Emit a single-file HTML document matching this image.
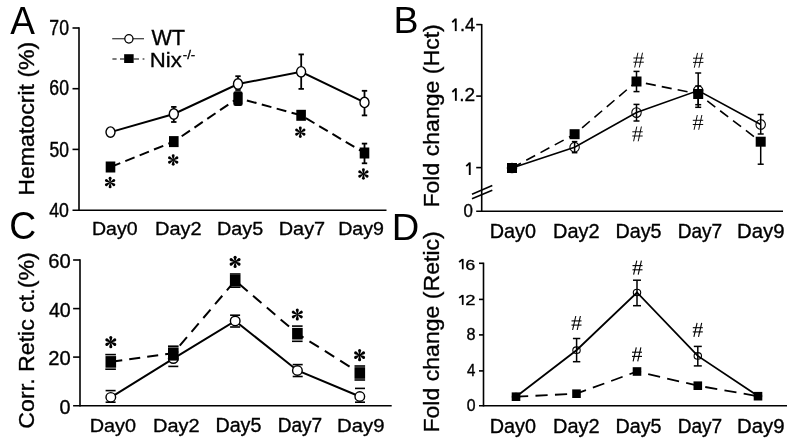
<!DOCTYPE html>
<html><head><meta charset="utf-8"><style>html,body{margin:0;padding:0;background:#fff;}svg{display:block;filter:grayscale(1);}</style></head>
<body><svg width="800" height="447" viewBox="0 0 800 447">
<rect width="800" height="447" fill="#fff"/>
<text transform="translate(10.30,34.40) scale(0.9687,1)" font-family="Liberation Sans" font-size="38.19" fill="#000" stroke="#000" stroke-width="0.000" >A</text>
<line x1="79.00" y1="27.30" x2="79.00" y2="210.90" stroke="#000" stroke-width="1.6" stroke-linecap="butt"/>
<line x1="72.50" y1="28.00" x2="79.00" y2="28.00" stroke="#000" stroke-width="1.6" stroke-linecap="butt"/>
<line x1="72.50" y1="88.70" x2="79.00" y2="88.70" stroke="#000" stroke-width="1.6" stroke-linecap="butt"/>
<line x1="72.50" y1="149.40" x2="79.00" y2="149.40" stroke="#000" stroke-width="1.6" stroke-linecap="butt"/>
<line x1="72.50" y1="210.20" x2="386.50" y2="210.20" stroke="#000" stroke-width="1.6" stroke-linecap="butt"/>
<text transform="translate(49.32,34.90) scale(0.8159,1)" font-family="Liberation Sans" font-size="21.64" fill="#000" stroke="#000" stroke-width="0.429" >70</text>
<text transform="translate(49.32,95.40) scale(0.8324,1)" font-family="Liberation Sans" font-size="21.21" fill="#000" stroke="#000" stroke-width="0.420" >60</text>
<text transform="translate(49.50,156.80) scale(0.8134,1)" font-family="Liberation Sans" font-size="21.50" fill="#000" stroke="#000" stroke-width="0.430" >50</text>
<text transform="translate(49.25,217.10) scale(0.8528,1)" font-family="Liberation Sans" font-size="20.79" fill="#000" stroke="#000" stroke-width="0.410" >40</text>
<text transform="translate(92.04,235.20) scale(1.0304,1)" font-family="Liberation Sans" font-size="18.93" fill="#000" stroke="#000" stroke-width="0.340" >Day0</text>
<text transform="translate(155.10,235.20) scale(1.0542,1)" font-family="Liberation Sans" font-size="18.93" fill="#000" stroke="#000" stroke-width="0.332" >Day2</text>
<text transform="translate(217.02,235.20) scale(1.0298,1)" font-family="Liberation Sans" font-size="19.20" fill="#000" stroke="#000" stroke-width="0.340" >Day5</text>
<text transform="translate(278.71,235.20) scale(1.0368,1)" font-family="Liberation Sans" font-size="19.20" fill="#000" stroke="#000" stroke-width="0.338" >Day7</text>
<text transform="translate(338.23,235.20) scale(1.0351,1)" font-family="Liberation Sans" font-size="18.93" fill="#000" stroke="#000" stroke-width="0.338" >Day9</text>
<text transform="translate(34.00,195.75) rotate(-90) scale(1.0278,1)" font-family="Liberation Sans" font-size="22.50" stroke="#000" stroke-width="0.341">Hematocrit (%)</text>
<line x1="112.20" y1="38.70" x2="144.00" y2="38.70" stroke="#444" stroke-width="1.3" stroke-linecap="butt"/>
<ellipse cx="128.90" cy="38.85" rx="4.10" ry="4.20" fill="#fff" stroke="#000" stroke-width="1.3"/>
<text transform="translate(151.44,45.30) scale(0.9934,1)" font-family="Liberation Sans" font-size="21.81" fill="#000" stroke="#000" stroke-width="0.352" >WT</text>
<line x1="112.40" y1="59.00" x2="116.60" y2="59.00" stroke="#444" stroke-width="1.4" stroke-linecap="butt"/>
<line x1="120.00" y1="59.00" x2="124.50" y2="59.00" stroke="#444" stroke-width="1.4" stroke-linecap="butt"/>
<line x1="133.50" y1="59.00" x2="139.00" y2="59.00" stroke="#444" stroke-width="1.4" stroke-linecap="butt"/>
<line x1="142.60" y1="59.00" x2="144.40" y2="59.00" stroke="#444" stroke-width="1.4" stroke-linecap="butt"/>
<rect x="124.15" y="54.20" width="9.50" height="8.80" fill="#000"/>
<text transform="translate(149.78,66.60) scale(1.1127,1)" font-family="Liberation Sans" font-size="19.93" fill="#000" stroke="#000" stroke-width="0.315" >Nix</text>
<text transform="translate(182.70,59.20) scale(1.1111,1)" font-family="Liberation Sans" font-size="12.00" fill="#000" stroke="#000" stroke-width="0.315" >-/-</text>
<polyline points="110.50,167.00 173.80,141.60 238.00,98.00 301.10,115.30 364.50,153.00" fill="none" stroke="#000" stroke-width="2.0" stroke-linejoin="miter" stroke-dasharray="10 5.45" stroke-dashoffset="-0.5"/>
<polyline points="110.50,132.10 173.80,114.00 238.00,84.00 301.10,71.80 364.50,102.40" fill="none" stroke="#000" stroke-width="2.0" stroke-linejoin="miter"/>
<line x1="173.80" y1="106.90" x2="173.80" y2="122.00" stroke="#000" stroke-width="1.8" stroke-linecap="butt"/>
<line x1="171.10" y1="106.90" x2="176.50" y2="106.90" stroke="#000" stroke-width="1.8" stroke-linecap="butt"/>
<line x1="171.10" y1="122.00" x2="176.50" y2="122.00" stroke="#000" stroke-width="1.8" stroke-linecap="butt"/>
<line x1="238.00" y1="76.20" x2="238.00" y2="90.00" stroke="#000" stroke-width="1.8" stroke-linecap="butt"/>
<line x1="235.30" y1="76.20" x2="240.70" y2="76.20" stroke="#000" stroke-width="1.8" stroke-linecap="butt"/>
<line x1="235.30" y1="90.00" x2="240.70" y2="90.00" stroke="#000" stroke-width="1.8" stroke-linecap="butt"/>
<line x1="301.20" y1="54.40" x2="301.20" y2="88.90" stroke="#000" stroke-width="1.8" stroke-linecap="butt"/>
<line x1="298.50" y1="54.40" x2="303.90" y2="54.40" stroke="#000" stroke-width="1.8" stroke-linecap="butt"/>
<line x1="298.50" y1="88.90" x2="303.90" y2="88.90" stroke="#000" stroke-width="1.8" stroke-linecap="butt"/>
<line x1="364.50" y1="90.80" x2="364.50" y2="115.40" stroke="#000" stroke-width="1.8" stroke-linecap="butt"/>
<line x1="361.80" y1="90.80" x2="367.20" y2="90.80" stroke="#000" stroke-width="1.8" stroke-linecap="butt"/>
<line x1="361.80" y1="115.40" x2="367.20" y2="115.40" stroke="#000" stroke-width="1.8" stroke-linecap="butt"/>
<ellipse cx="110.50" cy="132.10" rx="4.50" ry="5.20" fill="#fff" stroke="#000" stroke-width="1.4"/>
<ellipse cx="173.80" cy="114.00" rx="4.50" ry="5.20" fill="#fff" stroke="#000" stroke-width="1.4"/>
<ellipse cx="238.00" cy="84.00" rx="4.50" ry="5.20" fill="#fff" stroke="#000" stroke-width="1.4"/>
<ellipse cx="301.10" cy="71.80" rx="4.50" ry="5.20" fill="#fff" stroke="#000" stroke-width="1.4"/>
<ellipse cx="364.50" cy="102.40" rx="4.50" ry="5.20" fill="#fff" stroke="#000" stroke-width="1.4"/>
<line x1="364.50" y1="143.60" x2="364.50" y2="163.30" stroke="#000" stroke-width="1.8" stroke-linecap="butt"/>
<line x1="361.80" y1="143.60" x2="367.20" y2="143.60" stroke="#000" stroke-width="1.8" stroke-linecap="butt"/>
<line x1="361.80" y1="163.30" x2="367.20" y2="163.30" stroke="#000" stroke-width="1.8" stroke-linecap="butt"/>
<rect x="105.70" y="161.50" width="9.60" height="11.00" fill="#000"/>
<rect x="169.00" y="136.10" width="9.60" height="11.00" fill="#000"/>
<rect x="233.30" y="91.3" width="9.4" height="14.6" rx="2.2" fill="#000"/>
<rect x="296.30" y="109.80" width="9.60" height="11.00" fill="#000"/>
<rect x="359.70" y="147.50" width="9.60" height="11.00" fill="#000"/>
<path d="M -0.3,0 L -1.45,-4.30 A 1.45 1.45 0 1 1 1.45,-4.30 L 0.3,0 Z" transform="translate(110.10,182.60) scale(1.0) rotate(0)" fill="#000"/>
<path d="M -0.3,0 L -1.45,-4.30 A 1.45 1.45 0 1 1 1.45,-4.30 L 0.3,0 Z" transform="translate(110.10,182.60) scale(1.0) rotate(60)" fill="#000"/>
<path d="M -0.3,0 L -1.45,-4.30 A 1.45 1.45 0 1 1 1.45,-4.30 L 0.3,0 Z" transform="translate(110.10,182.60) scale(1.0) rotate(120)" fill="#000"/>
<path d="M -0.3,0 L -1.45,-4.30 A 1.45 1.45 0 1 1 1.45,-4.30 L 0.3,0 Z" transform="translate(110.10,182.60) scale(1.0) rotate(180)" fill="#000"/>
<path d="M -0.3,0 L -1.45,-4.30 A 1.45 1.45 0 1 1 1.45,-4.30 L 0.3,0 Z" transform="translate(110.10,182.60) scale(1.0) rotate(240)" fill="#000"/>
<path d="M -0.3,0 L -1.45,-4.30 A 1.45 1.45 0 1 1 1.45,-4.30 L 0.3,0 Z" transform="translate(110.10,182.60) scale(1.0) rotate(300)" fill="#000"/>
<path d="M -0.3,0 L -1.45,-4.30 A 1.45 1.45 0 1 1 1.45,-4.30 L 0.3,0 Z" transform="translate(173.20,160.00) scale(1.0) rotate(0)" fill="#000"/>
<path d="M -0.3,0 L -1.45,-4.30 A 1.45 1.45 0 1 1 1.45,-4.30 L 0.3,0 Z" transform="translate(173.20,160.00) scale(1.0) rotate(60)" fill="#000"/>
<path d="M -0.3,0 L -1.45,-4.30 A 1.45 1.45 0 1 1 1.45,-4.30 L 0.3,0 Z" transform="translate(173.20,160.00) scale(1.0) rotate(120)" fill="#000"/>
<path d="M -0.3,0 L -1.45,-4.30 A 1.45 1.45 0 1 1 1.45,-4.30 L 0.3,0 Z" transform="translate(173.20,160.00) scale(1.0) rotate(180)" fill="#000"/>
<path d="M -0.3,0 L -1.45,-4.30 A 1.45 1.45 0 1 1 1.45,-4.30 L 0.3,0 Z" transform="translate(173.20,160.00) scale(1.0) rotate(240)" fill="#000"/>
<path d="M -0.3,0 L -1.45,-4.30 A 1.45 1.45 0 1 1 1.45,-4.30 L 0.3,0 Z" transform="translate(173.20,160.00) scale(1.0) rotate(300)" fill="#000"/>
<path d="M -0.3,0 L -1.45,-4.30 A 1.45 1.45 0 1 1 1.45,-4.30 L 0.3,0 Z" transform="translate(300.30,132.20) scale(1.0) rotate(0)" fill="#000"/>
<path d="M -0.3,0 L -1.45,-4.30 A 1.45 1.45 0 1 1 1.45,-4.30 L 0.3,0 Z" transform="translate(300.30,132.20) scale(1.0) rotate(60)" fill="#000"/>
<path d="M -0.3,0 L -1.45,-4.30 A 1.45 1.45 0 1 1 1.45,-4.30 L 0.3,0 Z" transform="translate(300.30,132.20) scale(1.0) rotate(120)" fill="#000"/>
<path d="M -0.3,0 L -1.45,-4.30 A 1.45 1.45 0 1 1 1.45,-4.30 L 0.3,0 Z" transform="translate(300.30,132.20) scale(1.0) rotate(180)" fill="#000"/>
<path d="M -0.3,0 L -1.45,-4.30 A 1.45 1.45 0 1 1 1.45,-4.30 L 0.3,0 Z" transform="translate(300.30,132.20) scale(1.0) rotate(240)" fill="#000"/>
<path d="M -0.3,0 L -1.45,-4.30 A 1.45 1.45 0 1 1 1.45,-4.30 L 0.3,0 Z" transform="translate(300.30,132.20) scale(1.0) rotate(300)" fill="#000"/>
<path d="M -0.3,0 L -1.45,-4.30 A 1.45 1.45 0 1 1 1.45,-4.30 L 0.3,0 Z" transform="translate(363.40,174.00) scale(1.0) rotate(0)" fill="#000"/>
<path d="M -0.3,0 L -1.45,-4.30 A 1.45 1.45 0 1 1 1.45,-4.30 L 0.3,0 Z" transform="translate(363.40,174.00) scale(1.0) rotate(60)" fill="#000"/>
<path d="M -0.3,0 L -1.45,-4.30 A 1.45 1.45 0 1 1 1.45,-4.30 L 0.3,0 Z" transform="translate(363.40,174.00) scale(1.0) rotate(120)" fill="#000"/>
<path d="M -0.3,0 L -1.45,-4.30 A 1.45 1.45 0 1 1 1.45,-4.30 L 0.3,0 Z" transform="translate(363.40,174.00) scale(1.0) rotate(180)" fill="#000"/>
<path d="M -0.3,0 L -1.45,-4.30 A 1.45 1.45 0 1 1 1.45,-4.30 L 0.3,0 Z" transform="translate(363.40,174.00) scale(1.0) rotate(240)" fill="#000"/>
<path d="M -0.3,0 L -1.45,-4.30 A 1.45 1.45 0 1 1 1.45,-4.30 L 0.3,0 Z" transform="translate(363.40,174.00) scale(1.0) rotate(300)" fill="#000"/>
<text transform="translate(393.49,33.20) scale(1.0226,1)" font-family="Liberation Sans" font-size="36.74" fill="#000" stroke="#000" stroke-width="0.000" >B</text>
<line x1="481.70" y1="24.00" x2="481.70" y2="212.00" stroke="#000" stroke-width="1.6" stroke-linecap="butt"/>
<line x1="476.20" y1="24.60" x2="481.70" y2="24.60" stroke="#000" stroke-width="1.6" stroke-linecap="butt"/>
<line x1="476.20" y1="96.10" x2="481.70" y2="96.10" stroke="#000" stroke-width="1.6" stroke-linecap="butt"/>
<line x1="476.20" y1="167.60" x2="481.70" y2="167.60" stroke="#000" stroke-width="1.6" stroke-linecap="butt"/>
<line x1="476.20" y1="211.30" x2="783.00" y2="211.30" stroke="#000" stroke-width="1.6" stroke-linecap="butt"/>
<line x1="472.00" y1="194.20" x2="492.30" y2="185.60" stroke="#000" stroke-width="1.6" stroke-linecap="butt"/>
<line x1="472.00" y1="198.70" x2="492.30" y2="190.20" stroke="#000" stroke-width="1.6" stroke-linecap="butt"/>
<rect x="454.81" y="18.50" width="1.89" height="12.60" fill="#000"/>
<line x1="455.57" y1="19.16" x2="452.25" y2="22.28" stroke="#000" stroke-width="1.80" stroke-linecap="butt"/>
<text transform="translate(459.97,31.30) scale(0.9725,1)" font-family="Liberation Sans" font-size="18.62" fill="#000" stroke="#000" stroke-width="0.360" >.4</text>
<rect x="454.91" y="88.20" width="1.89" height="12.60" fill="#000"/>
<line x1="455.67" y1="88.86" x2="452.34" y2="91.98" stroke="#000" stroke-width="1.80" stroke-linecap="butt"/>
<text transform="translate(459.18,101.00) scale(1.0425,1)" font-family="Liberation Sans" font-size="18.36" fill="#000" stroke="#000" stroke-width="0.336" >.2</text>
<rect x="468.81" y="162.40" width="1.89" height="12.60" fill="#000"/>
<line x1="469.57" y1="163.06" x2="466.25" y2="166.18" stroke="#000" stroke-width="1.80" stroke-linecap="butt"/>
<text transform="translate(463.62,216.70) scale(0.9488,1)" font-family="Liberation Sans" font-size="17.79" fill="#000" stroke="#000" stroke-width="0.369" >0</text>
<text transform="translate(489.71,237.60) scale(1.0090,1)" font-family="Liberation Sans" font-size="19.64" fill="#000" stroke="#000" stroke-width="0.347" >Day0</text>
<text transform="translate(553.10,237.60) scale(1.0159,1)" font-family="Liberation Sans" font-size="19.64" fill="#000" stroke="#000" stroke-width="0.345" >Day2</text>
<text transform="translate(615.42,237.60) scale(0.9900,1)" font-family="Liberation Sans" font-size="19.93" fill="#000" stroke="#000" stroke-width="0.354" >Day5</text>
<text transform="translate(677.67,237.60) scale(0.9581,1)" font-family="Liberation Sans" font-size="19.93" fill="#000" stroke="#000" stroke-width="0.365" >Day7</text>
<text transform="translate(736.97,237.60) scale(1.0366,1)" font-family="Liberation Sans" font-size="19.64" fill="#000" stroke="#000" stroke-width="0.338" >Day9</text>
<text transform="translate(439.00,207.55) rotate(-90) scale(1.0585,1)" font-family="Liberation Sans" font-size="21.80" stroke="#000" stroke-width="0.331">Fold change (Hct)</text>
<polyline points="512.00,168.00 574.60,134.20 636.50,81.50 698.20,94.00 760.70,141.70" fill="none" stroke="#000" stroke-width="1.6" stroke-linejoin="miter" stroke-dasharray="10.1 6.1" stroke-dashoffset="0"/>
<polyline points="512.00,168.00 574.60,147.20 636.50,112.60 698.20,90.50 760.70,124.50" fill="none" stroke="#000" stroke-width="1.6" stroke-linejoin="miter"/>
<line x1="574.60" y1="141.60" x2="574.60" y2="152.70" stroke="#000" stroke-width="1.5" stroke-linecap="butt"/>
<line x1="571.85" y1="141.60" x2="577.35" y2="141.60" stroke="#000" stroke-width="1.5" stroke-linecap="butt"/>
<line x1="571.85" y1="152.70" x2="577.35" y2="152.70" stroke="#000" stroke-width="1.5" stroke-linecap="butt"/>
<line x1="636.50" y1="104.40" x2="636.50" y2="121.00" stroke="#000" stroke-width="1.5" stroke-linecap="butt"/>
<line x1="633.50" y1="104.40" x2="639.50" y2="104.40" stroke="#000" stroke-width="1.5" stroke-linecap="butt"/>
<line x1="633.50" y1="121.00" x2="639.50" y2="121.00" stroke="#000" stroke-width="1.5" stroke-linecap="butt"/>
<line x1="698.20" y1="73.00" x2="698.20" y2="107.30" stroke="#000" stroke-width="1.5" stroke-linecap="butt"/>
<line x1="695.20" y1="73.00" x2="701.20" y2="73.00" stroke="#000" stroke-width="1.5" stroke-linecap="butt"/>
<line x1="695.20" y1="107.30" x2="701.20" y2="107.30" stroke="#000" stroke-width="1.5" stroke-linecap="butt"/>
<line x1="760.70" y1="114.50" x2="760.70" y2="134.00" stroke="#000" stroke-width="1.5" stroke-linecap="butt"/>
<line x1="757.70" y1="114.50" x2="763.70" y2="114.50" stroke="#000" stroke-width="1.5" stroke-linecap="butt"/>
<line x1="757.70" y1="134.00" x2="763.70" y2="134.00" stroke="#000" stroke-width="1.5" stroke-linecap="butt"/>
<ellipse cx="512.00" cy="168.00" rx="4.70" ry="4.80" fill="none" stroke="#000" stroke-width="1.1"/>
<ellipse cx="574.60" cy="147.20" rx="4.70" ry="4.80" fill="none" stroke="#000" stroke-width="1.1"/>
<ellipse cx="636.50" cy="112.60" rx="4.70" ry="4.80" fill="none" stroke="#000" stroke-width="1.1"/>
<ellipse cx="698.20" cy="90.50" rx="4.70" ry="4.80" fill="none" stroke="#000" stroke-width="1.1"/>
<ellipse cx="760.70" cy="124.50" rx="4.70" ry="4.80" fill="none" stroke="#000" stroke-width="1.1"/>
<line x1="636.50" y1="71.40" x2="636.50" y2="91.60" stroke="#000" stroke-width="1.5" stroke-linecap="butt"/>
<line x1="633.50" y1="71.40" x2="639.50" y2="71.40" stroke="#000" stroke-width="1.5" stroke-linecap="butt"/>
<line x1="633.50" y1="91.60" x2="639.50" y2="91.60" stroke="#000" stroke-width="1.5" stroke-linecap="butt"/>
<line x1="698.20" y1="86.00" x2="698.20" y2="104.70" stroke="#000" stroke-width="1.5" stroke-linecap="butt"/>
<line x1="695.20" y1="86.00" x2="701.20" y2="86.00" stroke="#000" stroke-width="1.5" stroke-linecap="butt"/>
<line x1="695.20" y1="104.70" x2="701.20" y2="104.70" stroke="#000" stroke-width="1.5" stroke-linecap="butt"/>
<line x1="760.70" y1="140.00" x2="760.70" y2="164.20" stroke="#000" stroke-width="1.5" stroke-linecap="butt"/>
<line x1="757.70" y1="140.00" x2="763.70" y2="140.00" stroke="#000" stroke-width="1.5" stroke-linecap="butt"/>
<line x1="757.70" y1="164.20" x2="763.70" y2="164.20" stroke="#000" stroke-width="1.5" stroke-linecap="butt"/>
<rect x="507.00" y="163.00" width="10.00" height="10.00" fill="#000"/>
<rect x="569.60" y="129.20" width="10.00" height="10.00" fill="#000"/>
<rect x="631.50" y="76.50" width="10.00" height="10.00" fill="#000"/>
<rect x="693.20" y="89.00" width="10.00" height="10.00" fill="#000"/>
<rect x="755.70" y="136.70" width="10.00" height="10.00" fill="#000"/>
<line x1="637.90" y1="52.70" x2="634.70" y2="67.50" stroke="#000" stroke-width="0.95" stroke-linecap="butt"/>
<line x1="642.50" y1="52.70" x2="639.30" y2="67.50" stroke="#000" stroke-width="0.95" stroke-linecap="butt"/>
<line x1="633.40" y1="58.00" x2="643.80" y2="58.00" stroke="#000" stroke-width="0.95" stroke-linecap="butt"/>
<line x1="633.40" y1="62.20" x2="643.80" y2="62.20" stroke="#000" stroke-width="0.95" stroke-linecap="butt"/>
<line x1="636.80" y1="126.50" x2="633.60" y2="141.30" stroke="#000" stroke-width="0.95" stroke-linecap="butt"/>
<line x1="641.40" y1="126.50" x2="638.20" y2="141.30" stroke="#000" stroke-width="0.95" stroke-linecap="butt"/>
<line x1="632.30" y1="131.80" x2="642.70" y2="131.80" stroke="#000" stroke-width="0.95" stroke-linecap="butt"/>
<line x1="632.30" y1="136.00" x2="642.70" y2="136.00" stroke="#000" stroke-width="0.95" stroke-linecap="butt"/>
<line x1="697.50" y1="52.90" x2="694.30" y2="67.70" stroke="#000" stroke-width="0.95" stroke-linecap="butt"/>
<line x1="702.10" y1="52.90" x2="698.90" y2="67.70" stroke="#000" stroke-width="0.95" stroke-linecap="butt"/>
<line x1="693.00" y1="58.20" x2="703.40" y2="58.20" stroke="#000" stroke-width="0.95" stroke-linecap="butt"/>
<line x1="693.00" y1="62.40" x2="703.40" y2="62.40" stroke="#000" stroke-width="0.95" stroke-linecap="butt"/>
<line x1="697.30" y1="115.00" x2="694.10" y2="129.80" stroke="#000" stroke-width="0.95" stroke-linecap="butt"/>
<line x1="701.90" y1="115.00" x2="698.70" y2="129.80" stroke="#000" stroke-width="0.95" stroke-linecap="butt"/>
<line x1="692.80" y1="120.30" x2="703.20" y2="120.30" stroke="#000" stroke-width="0.95" stroke-linecap="butt"/>
<line x1="692.80" y1="124.50" x2="703.20" y2="124.50" stroke="#000" stroke-width="0.95" stroke-linecap="butt"/>
<text transform="translate(9.23,239.20) scale(0.9552,1)" font-family="Liberation Sans" font-size="39.07" fill="#000" stroke="#000" stroke-width="0.000" >C</text>
<line x1="80.00" y1="259.30" x2="80.00" y2="406.50" stroke="#000" stroke-width="1.6" stroke-linecap="butt"/>
<line x1="73.10" y1="260.00" x2="80.00" y2="260.00" stroke="#000" stroke-width="1.6" stroke-linecap="butt"/>
<line x1="73.10" y1="308.60" x2="80.00" y2="308.60" stroke="#000" stroke-width="1.6" stroke-linecap="butt"/>
<line x1="73.10" y1="357.10" x2="80.00" y2="357.10" stroke="#000" stroke-width="1.6" stroke-linecap="butt"/>
<line x1="73.10" y1="405.70" x2="391.70" y2="405.70" stroke="#000" stroke-width="1.6" stroke-linecap="butt"/>
<text transform="translate(48.29,267.90) scale(1.0207,1)" font-family="Liberation Sans" font-size="19.79" fill="#000" stroke="#000" stroke-width="0.343" >60</text>
<text transform="translate(48.91,316.50) scale(0.9917,1)" font-family="Liberation Sans" font-size="19.79" fill="#000" stroke="#000" stroke-width="0.353" >40</text>
<text transform="translate(48.29,365.00) scale(1.0207,1)" font-family="Liberation Sans" font-size="19.79" fill="#000" stroke="#000" stroke-width="0.343" >20</text>
<text transform="translate(59.61,413.60) scale(0.9588,1)" font-family="Liberation Sans" font-size="20.64" fill="#000" stroke="#000" stroke-width="0.365" >0</text>
<text transform="translate(89.71,432.00) scale(1.0315,1)" font-family="Liberation Sans" font-size="19.21" fill="#000" stroke="#000" stroke-width="0.339" >Day0</text>
<text transform="translate(153.10,432.00) scale(1.0385,1)" font-family="Liberation Sans" font-size="19.21" fill="#000" stroke="#000" stroke-width="0.337" >Day2</text>
<text transform="translate(215.42,432.00) scale(1.0121,1)" font-family="Liberation Sans" font-size="19.49" fill="#000" stroke="#000" stroke-width="0.346" >Day5</text>
<text transform="translate(277.67,432.00) scale(0.9795,1)" font-family="Liberation Sans" font-size="19.49" fill="#000" stroke="#000" stroke-width="0.357" >Day7</text>
<text transform="translate(336.97,432.00) scale(1.0597,1)" font-family="Liberation Sans" font-size="19.21" fill="#000" stroke="#000" stroke-width="0.330" >Day9</text>
<text transform="translate(33.60,428.66) rotate(-90) scale(1.0539,1)" font-family="Liberation Sans" font-size="22.00" stroke="#000" stroke-width="0.332">Corr. Retic ct.(%)</text>
<polyline points="110.80,361.90 173.30,353.20 235.20,280.60 297.40,333.70 359.80,373.00" fill="none" stroke="#000" stroke-width="2.0" stroke-linejoin="miter" stroke-dasharray="11.1 7.05" stroke-dashoffset="-0.45"/>
<polyline points="110.80,397.30 173.30,358.60 235.20,320.90 297.40,370.50 359.80,396.50" fill="none" stroke="#000" stroke-width="2.0" stroke-linejoin="miter"/>
<line x1="105.60" y1="390.60" x2="115.60" y2="390.60" stroke="#000" stroke-width="1.6" stroke-linecap="butt"/>
<line x1="105.60" y1="402.20" x2="115.60" y2="402.20" stroke="#000" stroke-width="1.6" stroke-linecap="butt"/>
<line x1="168.30" y1="352.00" x2="178.30" y2="352.00" stroke="#000" stroke-width="1.6" stroke-linecap="butt"/>
<line x1="168.30" y1="366.40" x2="178.30" y2="366.40" stroke="#000" stroke-width="1.6" stroke-linecap="butt"/>
<line x1="230.10" y1="315.20" x2="240.10" y2="315.20" stroke="#000" stroke-width="1.6" stroke-linecap="butt"/>
<line x1="230.10" y1="327.00" x2="240.10" y2="327.00" stroke="#000" stroke-width="1.6" stroke-linecap="butt"/>
<line x1="292.70" y1="364.60" x2="302.70" y2="364.60" stroke="#000" stroke-width="1.6" stroke-linecap="butt"/>
<line x1="292.70" y1="376.50" x2="302.70" y2="376.50" stroke="#000" stroke-width="1.6" stroke-linecap="butt"/>
<line x1="355.00" y1="388.40" x2="365.00" y2="388.40" stroke="#000" stroke-width="1.6" stroke-linecap="butt"/>
<line x1="355.00" y1="402.20" x2="365.00" y2="402.20" stroke="#000" stroke-width="1.6" stroke-linecap="butt"/>
<ellipse cx="110.80" cy="397.30" rx="4.80" ry="4.70" fill="#fff" stroke="#000" stroke-width="1.4"/>
<ellipse cx="173.30" cy="358.60" rx="4.80" ry="4.70" fill="#fff" stroke="#000" stroke-width="1.4"/>
<ellipse cx="235.20" cy="320.90" rx="4.80" ry="4.70" fill="#fff" stroke="#000" stroke-width="1.4"/>
<ellipse cx="297.40" cy="370.50" rx="4.80" ry="4.70" fill="#fff" stroke="#000" stroke-width="1.4"/>
<ellipse cx="359.80" cy="396.50" rx="4.80" ry="4.70" fill="#fff" stroke="#000" stroke-width="1.4"/>
<line x1="105.30" y1="354.60" x2="115.90" y2="354.60" stroke="#000" stroke-width="1.6" stroke-linecap="butt"/>
<line x1="105.30" y1="369.20" x2="115.90" y2="369.20" stroke="#000" stroke-width="1.6" stroke-linecap="butt"/>
<line x1="168.00" y1="346.20" x2="178.60" y2="346.20" stroke="#000" stroke-width="1.6" stroke-linecap="butt"/>
<line x1="168.00" y1="359.80" x2="178.60" y2="359.80" stroke="#000" stroke-width="1.6" stroke-linecap="butt"/>
<line x1="229.90" y1="274.00" x2="240.50" y2="274.00" stroke="#000" stroke-width="1.6" stroke-linecap="butt"/>
<line x1="229.90" y1="287.20" x2="240.50" y2="287.20" stroke="#000" stroke-width="1.6" stroke-linecap="butt"/>
<line x1="292.00" y1="326.10" x2="302.60" y2="326.10" stroke="#000" stroke-width="1.6" stroke-linecap="butt"/>
<line x1="292.00" y1="341.30" x2="302.60" y2="341.30" stroke="#000" stroke-width="1.6" stroke-linecap="butt"/>
<line x1="354.50" y1="366.00" x2="365.10" y2="366.00" stroke="#000" stroke-width="1.6" stroke-linecap="butt"/>
<line x1="354.50" y1="380.00" x2="365.10" y2="380.00" stroke="#000" stroke-width="1.6" stroke-linecap="butt"/>
<rect x="105.50" y="356.10" width="10.60" height="11.60" fill="#000"/>
<rect x="168.00" y="347.40" width="10.60" height="11.60" fill="#000"/>
<rect x="229.90" y="274.80" width="10.60" height="11.60" fill="#000"/>
<rect x="292.10" y="327.90" width="10.60" height="11.60" fill="#000"/>
<rect x="354.50" y="367.20" width="10.60" height="11.60" fill="#000"/>
<path d="M -0.3,0 L -1.45,-4.30 A 1.45 1.45 0 1 1 1.45,-4.30 L 0.3,0 Z" transform="translate(110.80,342.10) scale(1.06) rotate(0)" fill="#000"/>
<path d="M -0.3,0 L -1.45,-4.30 A 1.45 1.45 0 1 1 1.45,-4.30 L 0.3,0 Z" transform="translate(110.80,342.10) scale(1.06) rotate(60)" fill="#000"/>
<path d="M -0.3,0 L -1.45,-4.30 A 1.45 1.45 0 1 1 1.45,-4.30 L 0.3,0 Z" transform="translate(110.80,342.10) scale(1.06) rotate(120)" fill="#000"/>
<path d="M -0.3,0 L -1.45,-4.30 A 1.45 1.45 0 1 1 1.45,-4.30 L 0.3,0 Z" transform="translate(110.80,342.10) scale(1.06) rotate(180)" fill="#000"/>
<path d="M -0.3,0 L -1.45,-4.30 A 1.45 1.45 0 1 1 1.45,-4.30 L 0.3,0 Z" transform="translate(110.80,342.10) scale(1.06) rotate(240)" fill="#000"/>
<path d="M -0.3,0 L -1.45,-4.30 A 1.45 1.45 0 1 1 1.45,-4.30 L 0.3,0 Z" transform="translate(110.80,342.10) scale(1.06) rotate(300)" fill="#000"/>
<path d="M -0.3,0 L -1.45,-4.30 A 1.45 1.45 0 1 1 1.45,-4.30 L 0.3,0 Z" transform="translate(235.10,261.90) scale(1.06) rotate(0)" fill="#000"/>
<path d="M -0.3,0 L -1.45,-4.30 A 1.45 1.45 0 1 1 1.45,-4.30 L 0.3,0 Z" transform="translate(235.10,261.90) scale(1.06) rotate(60)" fill="#000"/>
<path d="M -0.3,0 L -1.45,-4.30 A 1.45 1.45 0 1 1 1.45,-4.30 L 0.3,0 Z" transform="translate(235.10,261.90) scale(1.06) rotate(120)" fill="#000"/>
<path d="M -0.3,0 L -1.45,-4.30 A 1.45 1.45 0 1 1 1.45,-4.30 L 0.3,0 Z" transform="translate(235.10,261.90) scale(1.06) rotate(180)" fill="#000"/>
<path d="M -0.3,0 L -1.45,-4.30 A 1.45 1.45 0 1 1 1.45,-4.30 L 0.3,0 Z" transform="translate(235.10,261.90) scale(1.06) rotate(240)" fill="#000"/>
<path d="M -0.3,0 L -1.45,-4.30 A 1.45 1.45 0 1 1 1.45,-4.30 L 0.3,0 Z" transform="translate(235.10,261.90) scale(1.06) rotate(300)" fill="#000"/>
<path d="M -0.3,0 L -1.45,-4.30 A 1.45 1.45 0 1 1 1.45,-4.30 L 0.3,0 Z" transform="translate(297.30,314.50) scale(1.06) rotate(0)" fill="#000"/>
<path d="M -0.3,0 L -1.45,-4.30 A 1.45 1.45 0 1 1 1.45,-4.30 L 0.3,0 Z" transform="translate(297.30,314.50) scale(1.06) rotate(60)" fill="#000"/>
<path d="M -0.3,0 L -1.45,-4.30 A 1.45 1.45 0 1 1 1.45,-4.30 L 0.3,0 Z" transform="translate(297.30,314.50) scale(1.06) rotate(120)" fill="#000"/>
<path d="M -0.3,0 L -1.45,-4.30 A 1.45 1.45 0 1 1 1.45,-4.30 L 0.3,0 Z" transform="translate(297.30,314.50) scale(1.06) rotate(180)" fill="#000"/>
<path d="M -0.3,0 L -1.45,-4.30 A 1.45 1.45 0 1 1 1.45,-4.30 L 0.3,0 Z" transform="translate(297.30,314.50) scale(1.06) rotate(240)" fill="#000"/>
<path d="M -0.3,0 L -1.45,-4.30 A 1.45 1.45 0 1 1 1.45,-4.30 L 0.3,0 Z" transform="translate(297.30,314.50) scale(1.06) rotate(300)" fill="#000"/>
<path d="M -0.3,0 L -1.45,-4.30 A 1.45 1.45 0 1 1 1.45,-4.30 L 0.3,0 Z" transform="translate(359.60,355.10) scale(1.06) rotate(0)" fill="#000"/>
<path d="M -0.3,0 L -1.45,-4.30 A 1.45 1.45 0 1 1 1.45,-4.30 L 0.3,0 Z" transform="translate(359.60,355.10) scale(1.06) rotate(60)" fill="#000"/>
<path d="M -0.3,0 L -1.45,-4.30 A 1.45 1.45 0 1 1 1.45,-4.30 L 0.3,0 Z" transform="translate(359.60,355.10) scale(1.06) rotate(120)" fill="#000"/>
<path d="M -0.3,0 L -1.45,-4.30 A 1.45 1.45 0 1 1 1.45,-4.30 L 0.3,0 Z" transform="translate(359.60,355.10) scale(1.06) rotate(180)" fill="#000"/>
<path d="M -0.3,0 L -1.45,-4.30 A 1.45 1.45 0 1 1 1.45,-4.30 L 0.3,0 Z" transform="translate(359.60,355.10) scale(1.06) rotate(240)" fill="#000"/>
<path d="M -0.3,0 L -1.45,-4.30 A 1.45 1.45 0 1 1 1.45,-4.30 L 0.3,0 Z" transform="translate(359.60,355.10) scale(1.06) rotate(300)" fill="#000"/>
<text transform="translate(391.75,239.80) scale(1.0223,1)" font-family="Liberation Sans" font-size="37.32" fill="#000" stroke="#000" stroke-width="0.000" >D</text>
<line x1="483.50" y1="262.60" x2="483.50" y2="406.50" stroke="#000" stroke-width="1.6" stroke-linecap="butt"/>
<line x1="479.00" y1="263.30" x2="483.50" y2="263.30" stroke="#000" stroke-width="1.6" stroke-linecap="butt"/>
<line x1="479.00" y1="299.40" x2="483.50" y2="299.40" stroke="#000" stroke-width="1.6" stroke-linecap="butt"/>
<line x1="479.00" y1="334.90" x2="483.50" y2="334.90" stroke="#000" stroke-width="1.6" stroke-linecap="butt"/>
<line x1="479.00" y1="370.90" x2="483.50" y2="370.90" stroke="#000" stroke-width="1.6" stroke-linecap="butt"/>
<line x1="479.00" y1="405.80" x2="787.00" y2="405.80" stroke="#000" stroke-width="1.6" stroke-linecap="butt"/>
<rect x="461.85" y="258.90" width="1.75" height="10.40" fill="#000"/>
<line x1="462.55" y1="259.51" x2="459.07" y2="262.02" stroke="#000" stroke-width="1.66" stroke-linecap="butt"/>
<text transform="translate(465.30,269.60) scale(1.1763,1)" font-family="Liberation Sans" font-size="15.36" fill="#000" stroke="#000" stroke-width="0.298" >6</text>
<rect x="461.85" y="294.90" width="1.75" height="10.00" fill="#000"/>
<line x1="462.55" y1="295.51" x2="459.07" y2="297.90" stroke="#000" stroke-width="1.66" stroke-linecap="butt"/>
<text transform="translate(465.28,304.90) scale(1.2988,1)" font-family="Liberation Sans" font-size="14.21" fill="#000" stroke="#000" stroke-width="0.269" >2</text>
<text transform="translate(466.57,340.40) scale(1.0337,1)" font-family="Liberation Sans" font-size="15.64" fill="#000" stroke="#000" stroke-width="0.339" >8</text>
<text transform="translate(467.00,376.40) scale(0.9483,1)" font-family="Liberation Sans" font-size="15.87" fill="#000" stroke="#000" stroke-width="0.369" >4</text>
<text transform="translate(466.67,411.30) scale(1.0122,1)" font-family="Liberation Sans" font-size="15.64" fill="#000" stroke="#000" stroke-width="0.346" >0</text>
<text transform="translate(489.71,432.80) scale(1.0164,1)" font-family="Liberation Sans" font-size="19.50" fill="#000" stroke="#000" stroke-width="0.344" >Day0</text>
<text transform="translate(553.10,432.80) scale(1.0233,1)" font-family="Liberation Sans" font-size="19.50" fill="#000" stroke="#000" stroke-width="0.342" >Day2</text>
<text transform="translate(615.42,432.80) scale(0.9973,1)" font-family="Liberation Sans" font-size="19.78" fill="#000" stroke="#000" stroke-width="0.351" >Day5</text>
<text transform="translate(677.67,432.80) scale(0.9651,1)" font-family="Liberation Sans" font-size="19.78" fill="#000" stroke="#000" stroke-width="0.363" >Day7</text>
<text transform="translate(736.97,432.80) scale(1.0442,1)" font-family="Liberation Sans" font-size="19.50" fill="#000" stroke="#000" stroke-width="0.335" >Day9</text>
<text transform="translate(439.40,432.55) rotate(-90) scale(1.0585,1)" font-family="Liberation Sans" font-size="21.80" stroke="#000" stroke-width="0.331">Fold change (Retic)</text>
<polyline points="516.00,396.70 576.50,393.70 637.00,371.50 697.80,385.70 758.00,396.20" fill="none" stroke="#000" stroke-width="1.8" stroke-linejoin="miter" stroke-dasharray="12.2 7.3" stroke-dashoffset="0"/>
<polyline points="516.00,396.70 576.50,350.20 637.00,292.50 697.80,355.90 758.00,396.00" fill="none" stroke="#000" stroke-width="1.8" stroke-linejoin="miter"/>
<line x1="576.60" y1="338.50" x2="576.60" y2="361.70" stroke="#000" stroke-width="1.5" stroke-linecap="butt"/>
<line x1="572.90" y1="338.50" x2="580.30" y2="338.50" stroke="#000" stroke-width="1.5" stroke-linecap="butt"/>
<line x1="572.90" y1="361.70" x2="580.30" y2="361.70" stroke="#000" stroke-width="1.5" stroke-linecap="butt"/>
<line x1="637.00" y1="280.20" x2="637.00" y2="305.70" stroke="#000" stroke-width="1.5" stroke-linecap="butt"/>
<line x1="633.00" y1="280.20" x2="641.00" y2="280.20" stroke="#000" stroke-width="1.5" stroke-linecap="butt"/>
<line x1="633.00" y1="305.70" x2="641.00" y2="305.70" stroke="#000" stroke-width="1.5" stroke-linecap="butt"/>
<line x1="697.80" y1="346.40" x2="697.80" y2="365.90" stroke="#000" stroke-width="1.5" stroke-linecap="butt"/>
<line x1="693.80" y1="346.40" x2="701.80" y2="346.40" stroke="#000" stroke-width="1.5" stroke-linecap="butt"/>
<line x1="693.80" y1="365.90" x2="701.80" y2="365.90" stroke="#000" stroke-width="1.5" stroke-linecap="butt"/>
<ellipse cx="516.00" cy="396.70" rx="3.70" ry="3.30" fill="none" stroke="#000" stroke-width="1.1"/>
<ellipse cx="576.50" cy="350.20" rx="3.70" ry="3.30" fill="none" stroke="#000" stroke-width="1.1"/>
<ellipse cx="637.00" cy="292.50" rx="3.70" ry="3.30" fill="none" stroke="#000" stroke-width="1.1"/>
<ellipse cx="697.80" cy="355.90" rx="3.70" ry="3.30" fill="none" stroke="#000" stroke-width="1.1"/>
<ellipse cx="758.00" cy="396.00" rx="3.70" ry="3.30" fill="none" stroke="#000" stroke-width="1.1"/>
<rect x="511.70" y="392.40" width="8.60" height="8.60" fill="#000"/>
<rect x="572.20" y="389.40" width="8.60" height="8.60" fill="#000"/>
<rect x="632.70" y="367.20" width="8.60" height="8.60" fill="#000"/>
<rect x="693.50" y="381.40" width="8.60" height="8.60" fill="#000"/>
<rect x="753.70" y="391.90" width="8.60" height="8.60" fill="#000"/>
<line x1="575.80" y1="316.00" x2="572.60" y2="330.00" stroke="#000" stroke-width="1.1" stroke-linecap="butt"/>
<line x1="580.40" y1="316.00" x2="577.20" y2="330.00" stroke="#000" stroke-width="1.1" stroke-linecap="butt"/>
<line x1="571.50" y1="320.90" x2="581.50" y2="320.90" stroke="#000" stroke-width="1.1" stroke-linecap="butt"/>
<line x1="571.50" y1="325.10" x2="581.50" y2="325.10" stroke="#000" stroke-width="1.1" stroke-linecap="butt"/>
<line x1="636.80" y1="260.70" x2="633.60" y2="274.70" stroke="#000" stroke-width="1.1" stroke-linecap="butt"/>
<line x1="641.40" y1="260.70" x2="638.20" y2="274.70" stroke="#000" stroke-width="1.1" stroke-linecap="butt"/>
<line x1="632.50" y1="265.60" x2="642.50" y2="265.60" stroke="#000" stroke-width="1.1" stroke-linecap="butt"/>
<line x1="632.50" y1="269.80" x2="642.50" y2="269.80" stroke="#000" stroke-width="1.1" stroke-linecap="butt"/>
<line x1="636.30" y1="347.30" x2="633.10" y2="361.30" stroke="#000" stroke-width="1.1" stroke-linecap="butt"/>
<line x1="640.90" y1="347.30" x2="637.70" y2="361.30" stroke="#000" stroke-width="1.1" stroke-linecap="butt"/>
<line x1="632.00" y1="352.20" x2="642.00" y2="352.20" stroke="#000" stroke-width="1.1" stroke-linecap="butt"/>
<line x1="632.00" y1="356.40" x2="642.00" y2="356.40" stroke="#000" stroke-width="1.1" stroke-linecap="butt"/>
<line x1="697.10" y1="322.80" x2="693.90" y2="336.80" stroke="#000" stroke-width="1.1" stroke-linecap="butt"/>
<line x1="701.70" y1="322.80" x2="698.50" y2="336.80" stroke="#000" stroke-width="1.1" stroke-linecap="butt"/>
<line x1="692.80" y1="327.70" x2="702.80" y2="327.70" stroke="#000" stroke-width="1.1" stroke-linecap="butt"/>
<line x1="692.80" y1="331.90" x2="702.80" y2="331.90" stroke="#000" stroke-width="1.1" stroke-linecap="butt"/>
</svg></body></html>
